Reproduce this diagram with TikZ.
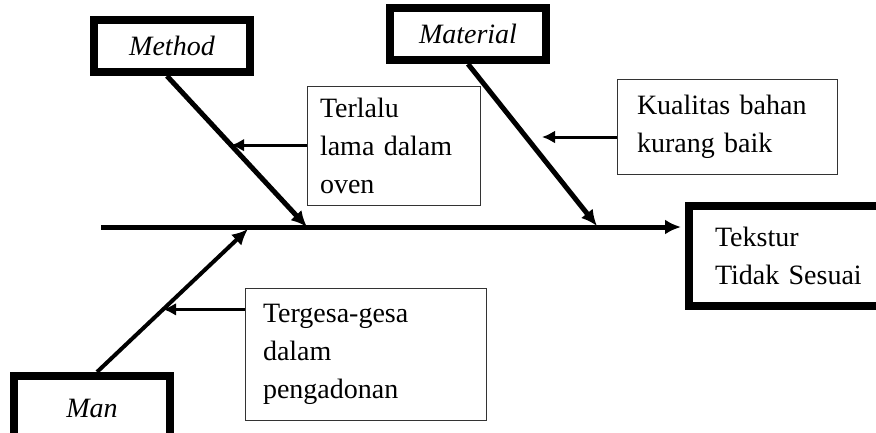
\documentclass[tikz,border=0pt]{standalone}
\usepackage{fontspec}
\setmainfont{Liberation Serif}
\usetikzlibrary{arrows.meta}

\begin{document}
\begin{tikzpicture}[x=1pt, y=-1pt,
        every node/.style={font=\fontsize{28}{38}\selectfont},
        catbox/.style={draw, line width=8pt, minimum width=156pt, minimum height=52pt, inner sep=0pt, font=\fontsize{28}{38}\selectfont\itshape},
        causebox/.style={draw=black!80, line width=1pt, align=left, inner ysep=0pt},
        bone/.style={line width=5pt, -{Latex[length=16pt, width=15pt]}},
        causearrow/.style={line width=3pt, -{Latex[length=13pt, width=13pt]}}]
        \useasboundingbox (0,0) rectangle (876,432);
        \clip (0,0) rectangle (876,432);

        % Category boxes
        \node[catbox] (method) at (172,46) {Method};
        \node[catbox] (material) at (468,34) {Material};
        \node[catbox, minimum height=64pt] (man) at (92,408) {Man};

        % Effect box
        \node[draw, line width=8pt, minimum height=100pt, text width=160pt, inner xsep=26pt, align=left] (tekstur) at (795,256) {Tekstur\\Tidak Sesuai};

        % Cause boxes
        \node[causebox, text width=147pt, inner xsep=13pt, minimum height=119pt] (terlalu) at (393.5,145.5) {Terlalu\\lama dalam\\oven};
        \node[causebox, text width=180pt, inner xsep=20pt, minimum height=95pt] (kualitas) at (727,126.5) {Kualitas bahan\\kurang baik};
        \node[causebox, text width=205pt, inner xsep=18pt, minimum height=132pt] (tergesa) at (365.5,354) {Tergesa-gesa\\dalam\\pengadonan};

        % Spine
        \coordinate (tail) at (101,227);
        \draw[bone, shorten >=4pt] (tail) -- (tail -| tekstur.west);

        % Bones
        \coordinate (mhead) at (307,227);
        \coordinate (thead) at (597,226);
        \coordinate (nhead) at (248,229);
        \draw[bone] ([xshift=-5pt]method.south) -- (mhead) coordinate[pos=0.458] (mhit);
        \draw[bone] (material.south) -- (thead);
        \draw[bone, line width=4pt] ([xshift=5pt]man.north) -- (nhead) coordinate[pos=0.438] (nhit);

        % Cause arrows
        \coordinate (ktip) at (542,137);
        \draw[causearrow] (mhit -| terlalu.west) -- (mhit);
        \draw[causearrow] (ktip -| kualitas.west) -- (ktip);
        \draw[causearrow] (nhit -| tergesa.west) -- (nhit);
    \end{tikzpicture}
\end{document}
